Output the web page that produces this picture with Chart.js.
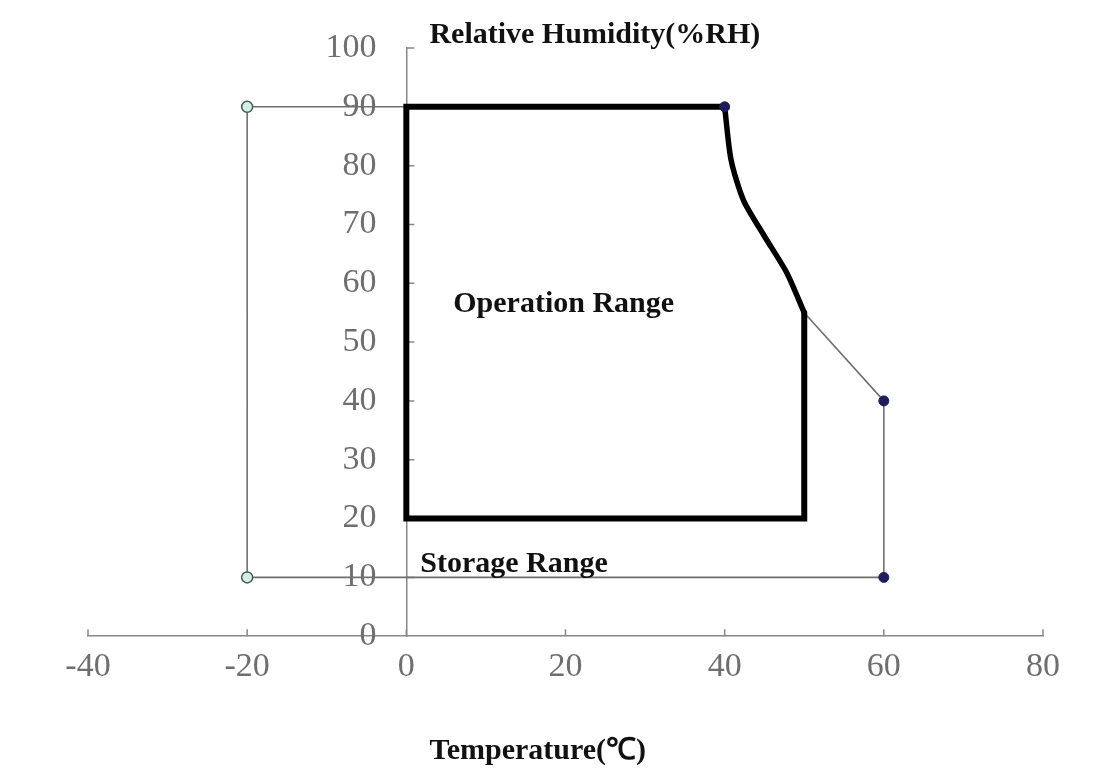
<!DOCTYPE html>
<html>
<head>
<meta charset="utf-8">
<script src="https://cdn.jsdelivr.net/npm/chart.js@4.4.1/dist/chart.umd.min.js"></script>
<style>
  html, body { margin: 0; padding: 0; background: #fff; }
</style>
</head>
<body>
<canvas id="rh" width="1098" height="781"></canvas>
<script>
// operation range: straight sides (thick black)
const opTemp = [40, 0, 0, 50, 50];
const opRH = [90, 90, 20, 20, 55];
// upper right boundary curve, 40 °C/90 %RH down to 50 °C/55 %RH
const curveTemp = [40, 40.8, 42.4, 45, 47.8, 50];
const curveRH = [90, 81, 74, 68, 61.8, 55];
// storage range (thin grey outline), the curve part lies under the thick one
const stTemp = [50, 60, 60, -20, -20, 40];
const stRH = [55, 40, 10, 10, 90, 90];
// corner markers
const openTemp = [-20, -20];
const openRH = [90, 10];
const dotTemp = [40, 60, 60];
const dotRH = [90, 40, 10];
// axes
const xTicks = [-40, -20, 0, 20, 40, 60, 80];
const yTicks = [0, 10, 20, 30, 40, 50, 60, 70, 80, 90, 100];

const pts = (xs, ys) => xs.map((x, i) => ({ x: x, y: ys[i] }));

const serif = "'Liberation Serif', 'Times New Roman', serif";

// short inward tick marks + the bold captions
const overlay = {
    id: "overlay",
    beforeDatasetsDraw(chart) {
        const ctx = chart.ctx;
        const xs = chart.scales.x, ys = chart.scales.y;
        const x0 = xs.getPixelForValue(0), y0 = ys.getPixelForValue(0);
        ctx.save();
        ctx.strokeStyle = "#888";
        ctx.lineWidth = 1.5;
        ctx.beginPath();
        xTicks.forEach((v) => {
            const px = xs.getPixelForValue(v);
            ctx.moveTo(px, y0);
            ctx.lineTo(px, y0 - 7);
        });
        yTicks.forEach((v) => {
            if (v === 0) return;
            const py = ys.getPixelForValue(v);
            ctx.moveTo(x0, py);
            ctx.lineTo(x0 + 8, py);
        });
        ctx.stroke();
        ctx.restore();
    },
    afterDatasetsDraw(chart) {
        const ctx = chart.ctx;
        const xs = chart.scales.x, ys = chart.scales.y;
        ctx.save();
        ctx.fillStyle = "#111";
        ctx.font = "bold 30px " + serif;
        ctx.textBaseline = "middle";
        ctx.textAlign = "left";
        ctx.fillText("Relative Humidity(%RH)", xs.getPixelForValue(2.9), ys.getPixelForValue(102.2));
        ctx.fillText("Operation Range", xs.getPixelForValue(5.9), ys.getPixelForValue(56.4));
        ctx.fillText("Storage Range", xs.getPixelForValue(1.75), ys.getPixelForValue(12.2));
        ctx.fillText("Temperature(\u2103)", xs.getPixelForValue(2.9), ys.getPixelForValue(-19.5));
        ctx.restore();
    },
};

const tickFont = { family: serif, size: 34 };

new Chart(document.getElementById("rh"), {
    type: "scatter",
    data: {
        datasets: [
            {
                label: "Storage Range",
                data: pts(stTemp, stRH),
                showLine: true,
                borderColor: "#6f6f6f",
                borderWidth: 1.6,
                pointRadius: 0,
                tension: 0,
                order: 4,
            },
            {
                label: "Operation Range",
                data: pts(opTemp, opRH),
                showLine: true,
                borderColor: "#000",
                borderWidth: 6,
                borderJoinStyle: "miter",
                borderCapStyle: "round",
                pointRadius: 0,
                tension: 0,
                order: 3,
            },
            {
                label: "Operation limit",
                data: pts(curveTemp, curveRH),
                showLine: true,
                borderColor: "#000",
                borderWidth: 5.5,
                borderCapStyle: "round",
                pointRadius: 0,
                tension: 0.25,
                order: 2,
            },
            {
                label: "open",
                data: pts(openTemp, openRH),
                pointRadius: 5.5,
                pointBackgroundColor: "#d6eee4",
                pointBorderColor: "#3f5f55",
                pointBorderWidth: 1.5,
                order: 1,
            },
            {
                label: "dot",
                data: pts(dotTemp, dotRH),
                pointRadius: 5,
                pointBackgroundColor: "#1d1d5e",
                pointBorderColor: "#1d1d5e",
                pointBorderWidth: 1,
                order: 0,
            },
        ],
    },
    options: {
        responsive: false,
        animation: false,
        layout: { padding: { left: 88, right: 55, top: 48, bottom: 84 } },
        plugins: {
            legend: { display: false },
            tooltip: { enabled: false },
        },
        scales: {
            x: {
                type: "linear",
                position: "bottom",
                min: -40,
                max: 80,
                afterBuildTicks: (s) => { s.ticks = xTicks.map((v) => ({ value: v })); },
                grid: { display: false, drawTicks: false },
                border: { display: true, color: "#888", width: 1.5 },
                ticks: {
                    padding: 10,
                    color: "#6e6e6e",
                    font: tickFont,
                },
            },
            // axis line at 0 °C
            y: {
                type: "linear",
                position: { x: 0 },
                min: 0,
                max: 100,
                grid: { display: false, drawTicks: false },
                border: { display: true, color: "#888", width: 1.5 },
                ticks: { display: false },
            },
            // tick labels sit a little left of the axis line
            yLabels: {
                type: "linear",
                axis: "y",
                position: { x: -3.75 },
                min: 0,
                max: 100,
                afterBuildTicks: (s) => { s.ticks = yTicks.map((v) => ({ value: v })); },
                grid: { display: false, drawTicks: false },
                border: { display: false },
                ticks: {
                    color: "#6e6e6e",
                    font: tickFont,
                },
            },
        },
    },
    plugins: [overlay],
});
</script>
</body>
</html>
